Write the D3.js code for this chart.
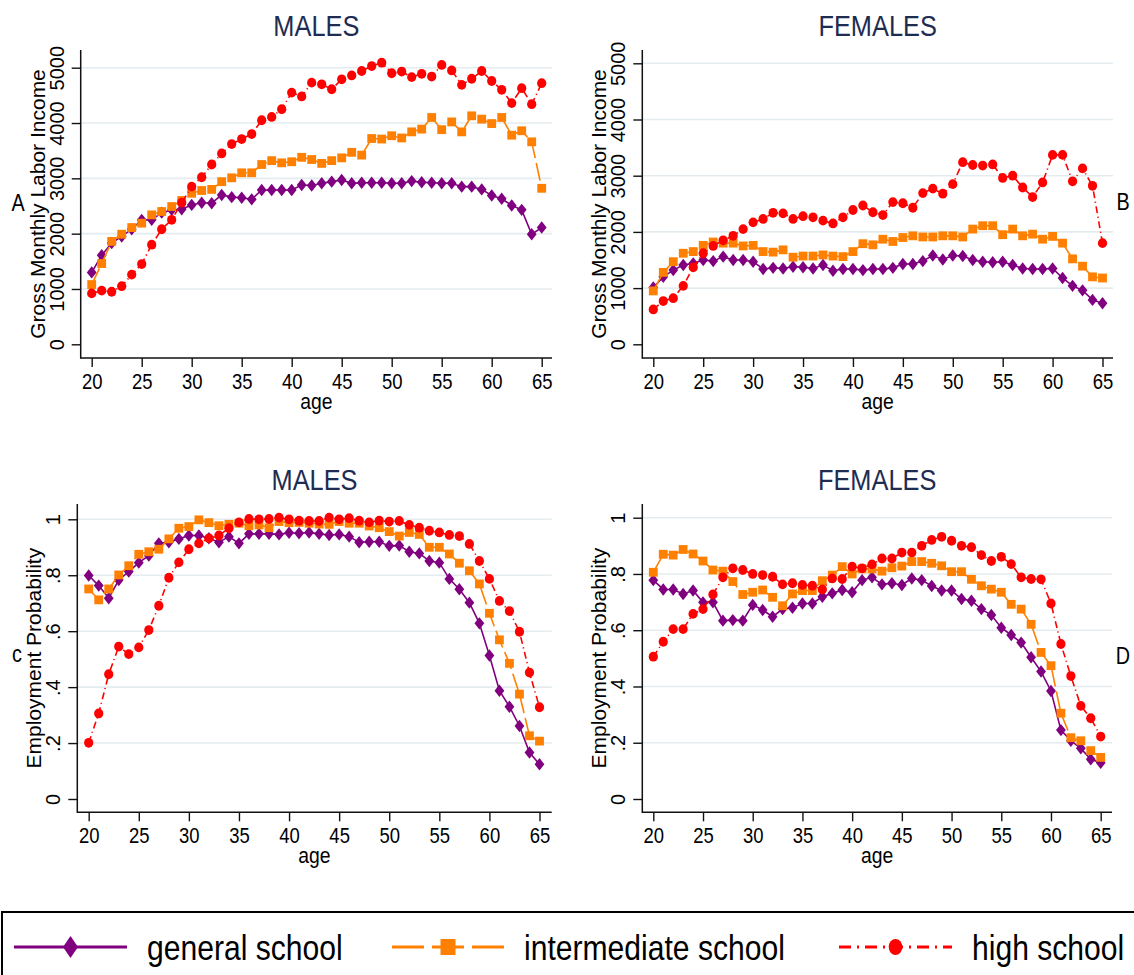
<!DOCTYPE html>
<html><head><meta charset="utf-8">
<script src="https://cdn.jsdelivr.net/npm/d3@7"></script>
<style>
body{margin:0;background:#fff;}
svg{display:block;font-family:"Liberation Sans",Arial,Helvetica,sans-serif;}
</style></head><body>
<svg id="chart" width="1134" height="975"></svg>
<script>
// ---------------- DATA ----------------
const ages = [20,21,22,23,24,25,26,27,28,29,30,31,32,33,34,35,36,37,38,39,40,41,42,43,44,45,46,47,48,49,50,51,52,53,54,55,56,57,58,59,60,61,62,63,64,65];
const ageTicks = [20,25,30,35,40,45,50,55,60,65];
const seriesNames = ["general school","intermediate school","high school"];

const incomeTicks = [0,1000,2000,3000,4000,5000];
const incomeTickLabels = ["0","1000","2000","3000","4000","5000"];
const probTicks = [0,0.2,0.4,0.6,0.8,1];
const probTickLabels = ["0",".2",".4",".6",".8","1"];

const panelTitles = ["MALES","FEMALES","MALES","FEMALES"];
const panelLetters = ["A","B","c","D"];
const yTitles = ["Gross Monthly Labor Income","Gross Monthly Labor Income","Employment Probability","Employment Probability"];

// Gross monthly labor income, males
const incMaleGeneral = [1300,1610,1830,1950,2080,2250,2250,2380,2430,2440,2520,2560,2550,2700,2660,2650,2620,2790,2790,2790,2790,2880,2870,2910,2940,2970,2910,2920,2920,2920,2910,2910,2950,2930,2920,2910,2910,2850,2850,2800,2690,2630,2510,2430,1990,2110];
const incMaleInter   = [1080,1460,1860,1990,2110,2190,2340,2400,2490,2600,2730,2780,2800,2940,3010,3100,3100,3250,3320,3280,3300,3380,3340,3270,3320,3370,3470,3420,3720,3710,3770,3730,3840,3890,4100,3880,4020,3840,4130,4070,3990,4100,3780,3860,3660,2820];
const incMaleHigh    = [920,970,950,1050,1260,1450,1800,2080,2250,2560,2850,3020,3250,3450,3620,3710,3800,4050,4110,4250,4550,4480,4730,4700,4610,4790,4860,4940,5030,5090,4900,4930,4830,4890,4840,5050,4950,4690,4800,4940,4760,4600,4360,4630,4340,4720];

// Gross monthly labor income, females
const incFemGeneral = [1010,1200,1320,1410,1440,1500,1480,1560,1500,1500,1470,1340,1360,1350,1380,1370,1350,1410,1310,1340,1340,1320,1340,1340,1360,1430,1430,1480,1580,1510,1580,1570,1500,1470,1460,1470,1410,1350,1340,1340,1350,1180,1040,960,790,730];
const incFemInter   = [950,1280,1470,1620,1650,1760,1820,1800,1800,1750,1760,1650,1640,1680,1550,1570,1570,1590,1570,1560,1650,1790,1770,1870,1830,1900,1930,1910,1910,1930,1930,1910,2050,2110,2110,1950,2050,1930,1960,1870,1920,1800,1520,1390,1200,1180];
const incFemHigh    = [620,770,820,1040,1370,1620,1750,1850,1930,2050,2170,2230,2340,2330,2230,2280,2260,2200,2150,2260,2390,2470,2350,2300,2530,2510,2430,2690,2770,2680,2850,3240,3190,3180,3200,2960,3000,2790,2620,2880,3370,3370,2900,3130,2820,1800];

// Employment probability, males
const empMaleGeneral = [0.799,0.763,0.718,0.783,0.813,0.845,0.870,0.914,0.918,0.930,0.942,0.942,0.932,0.918,0.938,0.914,0.948,0.948,0.948,0.946,0.952,0.950,0.953,0.948,0.944,0.946,0.938,0.918,0.920,0.920,0.905,0.906,0.884,0.878,0.851,0.845,0.787,0.750,0.702,0.628,0.513,0.387,0.330,0.261,0.166,0.124];
const empMaleInter   = [0.751,0.712,0.751,0.801,0.834,0.875,0.884,0.893,0.930,0.968,0.974,0.998,0.988,0.977,0.982,0.986,0.977,0.980,0.970,0.992,0.988,0.989,0.986,0.983,0.982,0.992,0.986,0.986,0.976,0.970,0.956,0.940,0.953,0.946,0.900,0.900,0.876,0.843,0.816,0.769,0.664,0.569,0.485,0.375,0.226,0.207];
const empMaleHigh    = [0.201,0.306,0.446,0.545,0.518,0.542,0.604,0.691,0.791,0.846,0.893,0.914,0.932,0.942,0.968,0.989,1.001,1.000,1.001,1.006,1.000,0.995,0.994,0.994,1.006,1.000,1.004,0.995,0.989,0.995,0.992,0.994,0.980,0.970,0.959,0.953,0.944,0.940,0.912,0.851,0.787,0.708,0.672,0.598,0.452,0.328];

// Employment probability, females
const empFemGeneral = [0.778,0.745,0.745,0.729,0.741,0.699,0.699,0.634,0.636,0.634,0.690,0.672,0.648,0.675,0.680,0.695,0.695,0.719,0.731,0.743,0.735,0.778,0.788,0.763,0.767,0.761,0.784,0.778,0.757,0.741,0.741,0.711,0.705,0.675,0.654,0.609,0.583,0.556,0.504,0.453,0.384,0.245,0.207,0.180,0.141,0.129];
const empFemInter   = [0.806,0.870,0.867,0.887,0.871,0.846,0.814,0.810,0.773,0.727,0.735,0.743,0.717,0.687,0.729,0.741,0.741,0.776,0.796,0.826,0.800,0.818,0.818,0.810,0.822,0.828,0.844,0.844,0.838,0.829,0.808,0.808,0.781,0.758,0.746,0.735,0.692,0.675,0.621,0.521,0.474,0.305,0.218,0.207,0.172,0.148];
const empFemHigh    = [0.506,0.559,0.604,0.604,0.658,0.675,0.727,0.788,0.820,0.814,0.800,0.796,0.790,0.763,0.767,0.761,0.758,0.745,0.784,0.782,0.826,0.820,0.834,0.855,0.855,0.876,0.876,0.900,0.921,0.932,0.918,0.900,0.895,0.867,0.846,0.861,0.835,0.788,0.782,0.781,0.695,0.551,0.437,0.331,0.287,0.222];

// ---------------- LAYOUT / STYLE ----------------
const FONT_SX = 0.86;
const colors = ["#800080","#ff8000","#ff0000"];
const plotDash = [null,"18,5","7,3.5,1.2,3.5"];
const legendDash = [null,"32,8","12,6,2,6"];
const titleColor = "#1e2c52";

const panels = [
  {x20:91.7,  x65:541.7,  y0:344.3, yTop:67.7,  ax:80.7,  ay:358,   top:50,  right:552},
  {x20:653.3, x65:1102.5, y0:344.3, yTop:63.3,  ax:642.3, ay:358,   top:50,  right:1113},
  {x20:88.7,  x65:539.5,  y0:799,   yTop:519.3, ax:77.3,  ay:812.3, top:504, right:551.7},
  {x20:653.3, x65:1100.7, y0:799,   yTop:517.7, ax:642.3, ay:812.3, top:504, right:1112}
];
const letterPos = [{x:18,y:211},{x:1123,y:210},{x:17,y:662},{x:1123,y:664}];

const svg = d3.select("#chart");

function hText(g, x, y, str, size, anchor, fill, sx){
  return g.append("text")
    .attr("transform", `translate(${x},${y}) scale(${sx==null?FONT_SX:sx},1)`)
    .attr("text-anchor", anchor)
    .style("font-size", size+"px")
    .attr("fill", fill||"#000")
    .text(str);
}

function marker(sel, type, cx, cy, k, color){
  if(type===0){
    const w=4.9*k, h=6.2*k;
    sel.append("path").attr("d",`M${cx},${cy-h}L${cx+w},${cy}L${cx},${cy+h}L${cx-w},${cy}Z`).attr("fill",color);
  } else if(type===1){
    const s=4.4*k;
    sel.append("rect").attr("x",cx-s).attr("y",cy-s).attr("width",2*s).attr("height",2*s).attr("fill",color);
  } else {
    sel.append("ellipse").attr("cx",cx).attr("cy",cy).attr("rx",4.6*k).attr("ry",4.9*k).attr("fill",color);
  }
}

function drawPanel(i, series, yMax, ticks, tickLabels){
  const p = panels[i];
  const x = d3.scaleLinear().domain([20,65]).range([p.x20,p.x65]);
  const y = d3.scaleLinear().domain([0,yMax]).range([p.y0,p.yTop]);
  const g = svg.append("g");

  // gridlines
  g.selectAll("line.grid").data(ticks.filter(t=>t>0)).join("line")
    .attr("class","grid")
    .attr("x1",p.ax).attr("x2",p.right)
    .attr("y1",d=>y(d)).attr("y2",d=>y(d))
    .attr("stroke","#e4ecef").attr("stroke-width",1.6);

  // x axis
  const xa = g.append("g").attr("transform",`translate(0,${p.ay})`)
    .call(d3.axisBottom(x).tickValues(ageTicks).tickSize(9).tickSizeOuter(0));
  xa.attr("font-size",null).attr("font-family",null);
  xa.select(".domain").remove();
  xa.selectAll(".tick line").attr("stroke","#111").attr("stroke-width",1.4);
  xa.selectAll(".tick text").attr("y",null).attr("dy",null)
    .attr("transform",`translate(0,30.8) scale(${FONT_SX},1)`)
    .style("font-size","21.5px").attr("fill","#000");

  // y axis
  const ya = g.append("g").attr("transform",`translate(${p.ax},0)`)
    .call(d3.axisLeft(y).tickValues(ticks).tickFormat((d,j)=>tickLabels[j]).tickSize(9).tickSizeOuter(0));
  ya.attr("font-size",null).attr("font-family",null);
  ya.select(".domain").remove();
  ya.selectAll(".tick line").attr("stroke","#111").attr("stroke-width",1.4);
  ya.selectAll(".tick text").attr("x",null).attr("dy",null)
    .attr("transform","translate(-17,0) rotate(-90)")
    .attr("text-anchor","middle")
    .style("font-size","20px").attr("fill","#000");

  // axis lines
  g.append("line").attr("x1",p.ax).attr("x2",p.ax).attr("y1",p.top).attr("y2",p.ay+0.7)
    .attr("stroke","#111").attr("stroke-width",1.5);
  g.append("line").attr("x1",p.ax).attr("x2",p.right).attr("y1",p.ay).attr("y2",p.ay)
    .attr("stroke","#111").attr("stroke-width",1.5);

  // series
  const line = d3.line().x((d,j)=>x(ages[j])).y(d=>y(d));
  series.forEach((vals,s)=>{
    const sg = g.append("g");
    sg.append("path").attr("d",line(vals)).attr("fill","none")
      .attr("stroke",colors[s]).attr("stroke-width",1.6)
      .attr("stroke-dasharray",plotDash[s]);
    vals.forEach((v,j)=>marker(sg,s,x(ages[j]),y(v),1,colors[s]));
  });

  // titles
  const cx = (p.ax+p.right)/2;
  hText(g, cx, p.ay-322, panelTitles[i], 29.5, "middle", titleColor);
  hText(g, cx, p.ay+50.5, "age", 22.5, "middle", "#000");
  g.append("text")
    .attr("transform",`translate(${p.ax-36},${(p.top+p.ay)/2}) rotate(-90)`)
    .attr("text-anchor","middle").style("font-size","21px").attr("fill","#000")
    .text(yTitles[i]);
  hText(g, letterPos[i].x, letterPos[i].y, panelLetters[i], 23, "middle", "#000");
}

drawPanel(0,[incMaleGeneral,incMaleInter,incMaleHigh],5000,incomeTicks,incomeTickLabels);
drawPanel(1,[incFemGeneral,incFemInter,incFemHigh],5000,incomeTicks,incomeTickLabels);
drawPanel(2,[empMaleGeneral,empMaleInter,empMaleHigh],1,probTicks,probTickLabels);
drawPanel(3,[empFemGeneral,empFemInter,empFemHigh],1,probTicks,probTickLabels);

// ---------------- LEGEND ----------------
const lg = svg.append("g");
lg.append("rect").attr("x",2).attr("y",912).attr("width",1150).attr("height",100)
  .attr("fill","#fff").attr("stroke","#000").attr("stroke-width",2);
const legendItems = [
  {x1:14, x2:127, tx:147},
  {x1:392, x2:504, tx:524},
  {x1:839, x2:952, tx:972}
];
const ly = 947;
seriesNames.forEach((name,s)=>{
  const it = legendItems[s];
  lg.append("line").attr("x1",it.x1).attr("x2",it.x2).attr("y1",ly).attr("y2",ly)
    .attr("stroke",colors[s]).attr("stroke-width",3)
    .attr("stroke-dasharray",legendDash[s]);
  const mx = (it.x1+it.x2)/2;
  if(s===0){
    lg.append("path").attr("d",`M${mx},${ly-11}L${mx+7.5},${ly}L${mx},${ly+11}L${mx-7.5},${ly}Z`).attr("fill",colors[s]);
  } else if(s===1){
    lg.append("rect").attr("x",mx-7.5).attr("y",ly-8).attr("width",15).attr("height",16).attr("fill",colors[s]);
  } else {
    lg.append("ellipse").attr("cx",mx).attr("cy",ly).attr("rx",6.8).attr("ry",8).attr("fill",colors[s]);
  }
  hText(lg, it.tx, ly+13, name, 35, "start", "#000");
});
</script>
</body></html>
